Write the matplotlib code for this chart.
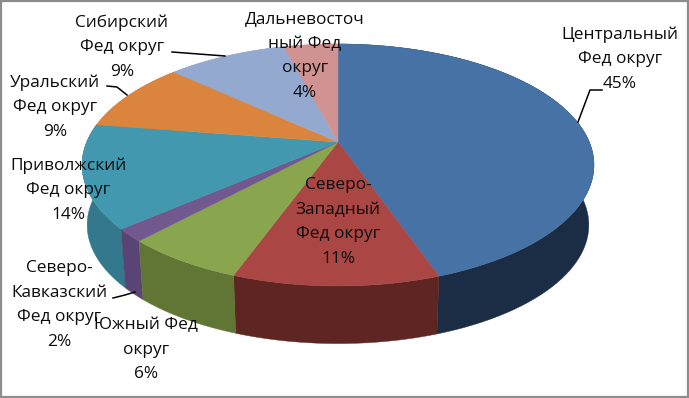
import numpy as np
import matplotlib
matplotlib.use("Agg")
import matplotlib.pyplot as plt
from matplotlib.patches import Rectangle

names = ["Центральный\nФед округ", "Северо-\nЗападный\nФед округ", "Южный Фед\nокруг",
         "Северо-\nКавказский\nФед округ", "Приволжский\nФед округ", "Уральский\nФед округ",
         "Сибирский\nФед округ", "Дальневосточ\nный Фед\nокруг"]
values = [44.7, 10.9, 6.4, 1.7, 13.8, 9.4, 9.1, 4.1]

top_colors = ["#4672A5", "#AA4643", "#89A54E", "#71588F", "#4198AF", "#DB843D", "#93A9CF", "#D19392"]
side_colors = ["#1B2D45", "#5F2522", "#617534", "#5A4475", "#33788C", "#DB843D", "#93A9CF", "#D19392"]

# label centres, pixels
label_x = [620, 338, 146, 59, 68, 55, 122, 305]
label_y = [59, 222, 350, 305, 190, 107, 47, 56]

leaders = [([602, 590, 578], [90, 90, 122]),
           ([172, 225], [52, 56]),
           ([107, 117, 127], [86, 87, 95]),
           ([113, 125, 135], [298, 295, 292])]

plt.rcParams['font.family'] = ['Open Sans', 'DejaVu Sans']


def project(t, scale=1.0, cy=165.):
    """Circle angle (clockwise from top) to pixels, with the perspective of the 3d pie"""
    u, v = np.sin(t), np.cos(t)
    den = 1 + 0.19 * v
    x = 251.3 * u / den
    y = (121 * v + 23) / den
    return 338 + scale * x, cy - scale * y


def main():
    fig = plt.figure(figsize=(6.89, 3.98), dpi=100)
    ax = fig.add_axes([0, 0, 1, 1])
    ax.set_xlim(0, 689)
    ax.set_ylim(398, 0)
    ax.axis('off')

    edges = np.cumsum([0] + values) / np.sum(values) * 2 * np.pi
    apex = (338, 142)

    # side walls first, the top faces hide the back part
    for i in [7, 6, 5, 4, 0, 3, 1, 2]:
        t = np.linspace(edges[i], edges[i + 1], 80)
        x0, y0 = project(t)
        x1, y1 = project(t, 0.98, 225.)
        ax.fill(np.r_[x0, x1[::-1]], np.r_[y0, y1[::-1]], color=side_colors[i], lw=0.3, zorder=2)

    for i in range(len(values)):
        t = np.linspace(edges[i], edges[i + 1], 80)
        x0, y0 = project(t)
        ax.fill(np.r_[apex[0], x0], np.r_[apex[1], y0], color=top_colors[i], lw=0.3, zorder=3)

    for xs, ys in leaders:
        ax.plot(xs, ys, color='k', lw=1.1, zorder=4)

    for i, name in enumerate(names):
        txt = f"{name}\n{values[i]:.0f}%"
        ax.text(label_x[i], label_y[i], txt, ha='center', va='center', ma='center',
                fontsize=12.4, linespacing=1.7, color='#0c0c0c', zorder=5)

    ax.add_patch(Rectangle((1, 1), 686.5, 395.5, fill=False, ec='#8c8c8c', lw=1.6, zorder=6))
    fig.savefig("out.png", dpi=100)


main()
